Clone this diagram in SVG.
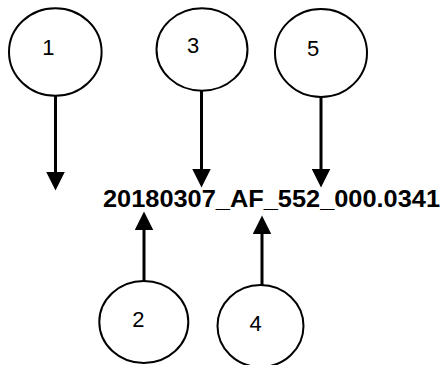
<svg xmlns="http://www.w3.org/2000/svg" width="443" height="365" viewBox="0 0 443 365">
<style>
.n ellipse{fill:#fff;stroke:#000;stroke-width:2}
.n text{font-family:"Liberation Sans",Arial,sans-serif;font-size:22px;fill:#000;text-anchor:middle}
.c line{stroke:#000;stroke-width:3}
.t{font-family:"Liberation Sans",Arial,sans-serif;font-size:24px;font-weight:bold;fill:#000}
</style>
<defs>
<marker id="ah" markerUnits="userSpaceOnUse" markerWidth="19" markerHeight="19" refX="8" refY="9" orient="auto" viewBox="0 0 18 18">
<path d="M0,0 L18,9 L0,18 z" fill="#000"/>
</marker>
</defs>
<rect width="443" height="365" fill="#fff"/>
<g class="c" id="connectors">
<line x1="55.5" y1="96" x2="55.5" y2="180" marker-end="url(#ah)"/>
<line x1="201.5" y1="91" x2="201.5" y2="177" marker-end="url(#ah)"/>
<line x1="321" y1="97" x2="321" y2="177" marker-end="url(#ah)"/>
<line x1="144" y1="281" x2="144" y2="222" marker-end="url(#ah)"/>
<line x1="262" y1="285" x2="262" y2="226" marker-end="url(#ah)"/>
</g>
<g class="n" id="node1"><ellipse cx="55.3" cy="52" rx="46.3" ry="43.7"/><text x="48.3" y="55">1</text></g>
<g class="n" id="node3"><ellipse cx="202" cy="49.5" rx="45.5" ry="41.2"/><text x="193" y="53">3</text></g>
<g class="n" id="node5"><ellipse cx="321" cy="53" rx="46" ry="44"/><text x="313" y="56">5</text></g>
<g class="n" id="node2"><ellipse cx="143.8" cy="322" rx="44.5" ry="41"/><text x="138.3" y="326.5">2</text></g>
<g class="n" id="node4"><ellipse cx="260.5" cy="326" rx="43" ry="41"/><text x="255.7" y="331">4</text></g>
<text class="t" x="103" y="207" textLength="337" lengthAdjust="spacingAndGlyphs">20180307_AF_552_000.0341</text>
</svg>
